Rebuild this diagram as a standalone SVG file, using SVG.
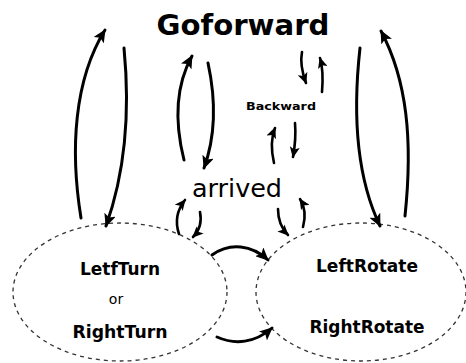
<svg xmlns="http://www.w3.org/2000/svg" width="466" height="363" viewBox="0 0 466 363">
<style>
.t{font-family:"DejaVu Sans","Liberation Sans",sans-serif;fill:#000;text-anchor:middle}
.b{font-weight:bold}
.c{fill:none;stroke:#000;stroke-width:3;stroke-linecap:round}
.s{fill:none;stroke:#000;stroke-width:2.6;stroke-linecap:round}
.e{fill:#fff;stroke:#333;stroke-width:1.3;stroke-dasharray:4 4}
</style>
<defs>
<marker id="ah" markerUnits="userSpaceOnUse" markerWidth="14" markerHeight="12" refX="12" refY="6" orient="auto">
<path d="M0,0 L13,6 L0,12 L3,6 Z" fill="#000"/>
</marker>
<marker id="ahs" markerUnits="userSpaceOnUse" markerWidth="12" markerHeight="10" refX="10" refY="5" orient="auto">
<path d="M0,0 L11,5 L0,10 L2.5,5 Z" fill="#000"/>
</marker>
</defs>
<rect width="466" height="363" fill="#fff"/>
<g id="leftNode">
<ellipse class="e" cx="120" cy="292" rx="107" ry="69"/>
<text class="t b" x="120" y="275" font-size="17" textLength="80" lengthAdjust="spacingAndGlyphs">LetfTurn</text>
<text class="t" x="116" y="304" font-size="14">or</text>
<text class="t b" x="120" y="338" font-size="17" textLength="95" lengthAdjust="spacingAndGlyphs">RightTurn</text>
</g>
<g id="rightNode">
<ellipse class="e" cx="361" cy="292" rx="105" ry="69"/>
<text class="t b" x="367" y="272" font-size="17" textLength="102" lengthAdjust="spacingAndGlyphs">LeftRotate</text>
<text class="t b" x="367" y="333" font-size="17" textLength="115" lengthAdjust="spacingAndGlyphs">RightRotate</text>
</g>
<g id="goforward">
<text class="t b" x="243" y="35" font-size="28" textLength="173" lengthAdjust="spacingAndGlyphs">Goforward</text>
</g>
<g id="backward">
<text class="t b" x="281" y="110" font-size="11" textLength="70" lengthAdjust="spacingAndGlyphs">Backward</text>
</g>
<g id="arrived">
<text class="t" x="237" y="197" font-size="24" textLength="90" lengthAdjust="spacingAndGlyphs">arrived</text>
</g>
<g id="connectors">
<path class="c" d="M81 218 C70 150 74 80 105 30" marker-end="url(#ah)"/>
<path class="c" d="M124 48 C130 110 126 170 106 226" marker-end="url(#ah)"/>
<path class="c" d="M184 160 C174 120 176 85 192 56" marker-end="url(#ah)"/>
<path class="c" d="M208 63 C216 100 216 135 204 168" marker-end="url(#ah)"/>
<path class="c" d="M360 48 C352 120 358 180 380 226" marker-end="url(#ah)"/>
<path class="c" d="M405 216 C413 140 407 80 381 31" marker-end="url(#ah)"/>
<path class="s" d="M302 52 C300 62 302 72 306 83" marker-end="url(#ahs)"/>
<path class="s" d="M322 92 C323 80 323 68 320 58" marker-end="url(#ahs)"/>
<path class="s" d="M274 163 C271 150 271 138 275 128" marker-end="url(#ahs)"/>
<path class="s" d="M295 123 C296 135 295 146 293 157" marker-end="url(#ahs)"/>
<path class="s" d="M179 234 C175 222 177 210 185 200" marker-end="url(#ahs)"/>
<path class="s" d="M200 212 C202 222 199 231 193 237" marker-end="url(#ahs)"/>
<path class="s" d="M278 209 C278 220 281 228 288 235" marker-end="url(#ahs)"/>
<path class="s" d="M303 227 C306 216 305 207 300 199" marker-end="url(#ahs)"/>
<path class="c" d="M212 255 C230 242 252 245 268 260" marker-end="url(#ah)"/>
<path class="c" d="M217 337 C235 345 255 343 272 328" marker-end="url(#ah)"/>
</g>
</svg>
